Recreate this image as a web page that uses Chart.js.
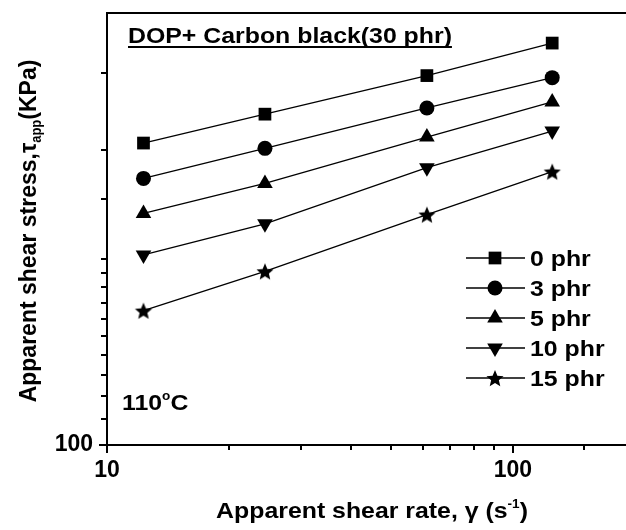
<!DOCTYPE html>
<html>
<head>
<meta charset="utf-8">
<script src="https://cdn.jsdelivr.net/npm/chart.js@4/dist/chart.umd.min.js"></script>
<style>
  html, body { margin: 0; padding: 0; background: #fff; }
  canvas { display: block; }
</style>
</head>
<body>
<canvas id="chart" width="626" height="530"></canvas>
<script>
// shear rate (1/s) for every series
const shearRate = [12.3, 24.5, 61.4, 125]

// apparent shear stress (kPa) per carbon black loading
const stress0 = [308, 343, 396, 447]
const stress3 = [270, 302, 351, 393]
const stress5 = [237, 265, 315, 359]
const stress10 = [203, 228, 281, 322]
const stress15 = [165, 191, 236, 277]

const seriesLabels = ['0 phr', '3 phr', '5 phr', '10 phr', '15 phr']
const xTickLabels = [10, 100]
const yTickLabels = [100]

const FONT = "'Liberation Sans', Arial, sans-serif"
const STRETCH = 1.13

function font(size) {
  return `bold ${size}px ${FONT}`
}

function makeStar(r) {
  const c = document.createElement('canvas')
  const size = Math.ceil(r * 2) + 2
  c.width = size
  c.height = size
  const g = c.getContext('2d')
  g.fillStyle = '#000'
  g.beginPath()
  for (let i = 0; i < 10; i++) {
    const rad = i % 2 ? r * 0.45 : r
    const a = -Math.PI / 2 + i * Math.PI / 5
    g.lineTo(size / 2 + rad * Math.cos(a), size / 2 + 1 + rad * Math.sin(a))
  }
  g.closePath()
  g.fill()
  return c
}

const markers = [
  { pointStyle: 'rect', radius: 9, rotation: 0 },
  { pointStyle: 'circle', radius: 7.5, rotation: 0 },
  { pointStyle: 'triangle', radius: 9, rotation: 0 },
  { pointStyle: 'triangle', radius: 9, rotation: 180 },
  { pointStyle: makeStar(9), radius: 9, rotation: 0 }
]

function series(values, index) {
  const m = markers[index]
  return {
    label: seriesLabels[index],
    data: shearRate.map((x, i) => ({ x, y: values[i] })),
    borderColor: '#000',
    borderWidth: 1.3,
    backgroundColor: '#000',
    pointStyle: m.pointStyle,
    pointRadius: m.radius,
    pointRotation: m.rotation,
    pointBackgroundColor: '#000',
    pointBorderColor: '#000',
    pointBorderWidth: 0,
    tension: 0
  }
}

// text made of runs with different sizes / offsets (sub- and superscripts)
function runsWidth(ctx, runs) {
  let w = 0
  runs.forEach(r => {
    ctx.font = font(r.size)
    w += ctx.measureText(r.t).width
  })
  return w
}

function drawRuns(ctx, runs, x, y, align, rotate, sx) {
  ctx.save()
  ctx.translate(x, y)
  ctx.scale(sx, 1)
  if (rotate) ctx.rotate(-Math.PI / 2)
  ctx.fillStyle = '#000'
  ctx.textBaseline = 'alphabetic'
  ctx.textAlign = 'left'
  const w = runsWidth(ctx, runs)
  let cx = align === 'center' ? -w / 2 : 0
  runs.forEach(r => {
    ctx.font = font(r.size)
    ctx.fillText(r.t, cx, r.dy || 0)
    cx += ctx.measureText(r.t).width
  })
  ctx.restore()
  return w * (rotate ? 1 : sx)
}

const decorPlugin = {
  id: 'decor',
  afterDraw(chart) {
    const { ctx, chartArea, scales } = chart
    ctx.save()
    ctx.strokeStyle = '#000'
    ctx.fillStyle = '#000'

    // top frame line
    ctx.lineWidth = 2
    ctx.beginPath()
    ctx.moveTo(chartArea.left - 1, chartArea.top)
    ctx.lineTo(chartArea.right, chartArea.top)
    ctx.stroke()

    // outward tick marks, long for decades
    ctx.lineWidth = 2
    scales.x.ticks.forEach(t => {
      if (t.value >= scales.x.max) return
      const px = Math.round(scales.x.getPixelForValue(t.value))
      const len = t.major ? 8 : 5
      ctx.beginPath()
      ctx.moveTo(px, chartArea.bottom)
      ctx.lineTo(px, chartArea.bottom + len)
      ctx.stroke()
    })
    scales.y.ticks.forEach(t => {
      if (t.value >= scales.y.max) return
      const py = Math.round(scales.y.getPixelForValue(t.value))
      const len = t.major ? 8 : 6
      ctx.beginPath()
      ctx.moveTo(chartArea.left, py)
      ctx.lineTo(chartArea.left - len, py)
      ctx.stroke()
    })

    // title, underlined
    const tw = drawRuns(ctx, [{ t: 'DOP+ Carbon black(30 phr)', size: 22 }], 128, 43, 'left', false, STRETCH)
    ctx.lineWidth = 2
    ctx.beginPath()
    ctx.moveTo(128, 47)
    ctx.lineTo(128 + tw, 47)
    ctx.stroke()

    // temperature
    drawRuns(ctx, [
      { t: '110', size: 22 },
      { t: 'o', size: 12, dy: -10 },
      { t: 'C', size: 22 }
    ], 122, 410, 'left', false, STRETCH)

    // axis titles
    drawRuns(ctx, [
      { t: 'Apparent shear rate, ', size: 22 },
      { t: 'γ', size: 22 },
      { t: ' (s', size: 22 },
      { t: '-1', size: 12, dy: -10 },
      { t: ')', size: 22 }
    ], 372, 518, 'center', false, STRETCH)

    drawRuns(ctx, [
      { t: 'Apparent shear stress,', size: 23 },
      { t: 'τ', size: 23 },
      { t: 'app', size: 13, dy: 5 },
      { t: '(KPa)', size: 23 }
    ], 36, 231, 'center', true, 1.08)

    // legend: line through marker, then label
    const drawPoint = Chart.helpers.drawPoint
    chart.data.datasets.forEach((ds, i) => {
      const y = 258 + i * 30
      ctx.lineWidth = 1.3
      ctx.beginPath()
      ctx.moveTo(466, y)
      ctx.lineTo(525, y)
      ctx.stroke()
      ctx.fillStyle = '#000'
      drawPoint(ctx, {
        pointStyle: ds.pointStyle,
        radius: ds.pointRadius,
        rotation: ds.pointRotation,
        borderWidth: 0
      }, 495, y)
      drawRuns(ctx, [{ t: ds.label, size: 22 }], 530, y + 8, 'left', false, STRETCH)
    })
    ctx.restore()
  }
}

new Chart(document.getElementById('chart'), {
  type: 'line',
  data: {
    datasets: [
      series(stress0, 0),
      series(stress3, 1),
      series(stress5, 2),
      series(stress10, 3),
      series(stress15, 4)
    ]
  },
  options: {
    responsive: false,
    devicePixelRatio: 1,
    animation: false,
    events: [],
    layout: { autoPadding: false, padding: { top: 13, left: 0, right: 0, bottom: 0 } },
    plugins: {
      legend: { display: false },
      tooltip: { enabled: false }
    },
    scales: {
      x: {
        type: 'logarithmic',
        min: 10,
        max: 190,
        grid: { display: false, drawTicks: false },
        border: { display: true, color: '#000', width: 2 },
        ticks: {
          autoSkip: false,
          maxRotation: 0,
          padding: 12,
          color: '#000',
          font: { family: FONT, weight: 'bold', size: 23 },
          callback: v => xTickLabels.includes(v) ? String(v) : ''
        },
        afterFit(s) {
          s.height = 85
          s.paddingLeft = 0
          s.paddingRight = 0
        }
      },
      y: {
        type: 'logarithmic',
        min: 100,
        max: 500,
        grid: { display: false, drawTicks: false },
        border: { display: true, color: '#000', width: 2 },
        ticks: {
          autoSkip: false,
          padding: 14,
          color: '#000',
          font: { family: FONT, weight: 'bold', size: 23 },
          callback: v => yTickLabels.includes(v) ? String(v) : ''
        },
        afterFit(s) {
          s.width = 107
          s.paddingTop = 0
          s.paddingBottom = 0
        }
      }
    }
  },
  plugins: [decorPlugin]
})
</script>
</body>
</html>
